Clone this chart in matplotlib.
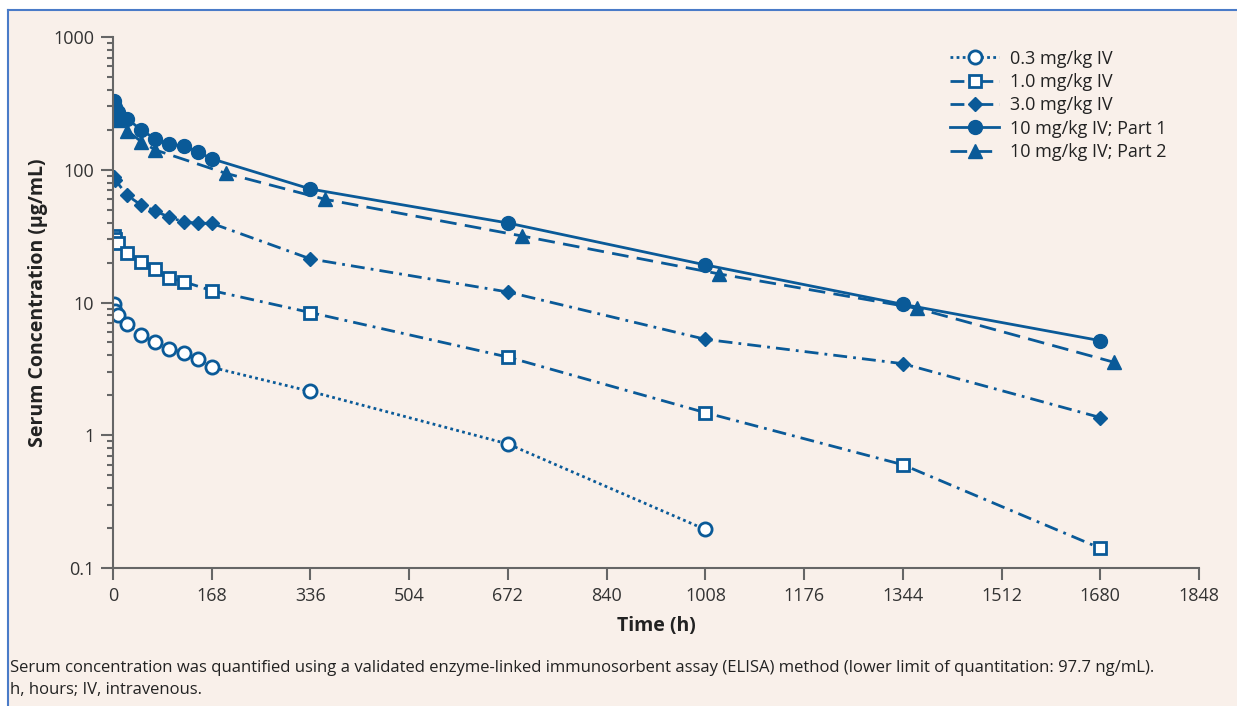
import matplotlib
matplotlib.use("Agg")
from matplotlib import pyplot as plt
from matplotlib.patches import Rectangle
from matplotlib.lines import Line2D
from matplotlib.ticker import FixedLocator, FixedFormatter, LogLocator, NullFormatter

plt.rcParams['font.family'] = ['Open Sans', 'DejaVu Sans']

# serum concentration (ug/mL) vs time (h)
t_03 = [1, 4, 8, 24, 48, 72, 96, 120, 144, 168, 336, 672, 1008]
c_03 = [9.7, 8.7, 8.1, 6.85, 5.7, 5.0, 4.5, 4.2, 3.77, 3.25, 2.14, 0.86, 0.195]

t_10 = [1, 4, 8, 24, 48, 72, 96, 120, 168, 336, 672, 1008, 1344, 1680]
c_10 = [31.7, 29.9, 27.9, 23.7, 20.3, 17.8, 15.4, 14.35, 12.3, 8.4, 3.88, 1.48, 0.6, 0.141]

t_30 = [1, 4, 24, 48, 72, 96, 120, 144, 168, 336, 672, 1008, 1344, 1680]
c_30 = [88.6, 83.7, 64.2, 54.2, 48.9, 43.8, 40.6, 39.5, 39.5, 21.3, 12.0, 5.28, 3.46, 1.36]

t_p1 = [1, 4, 8, 24, 48, 72, 96, 120, 144, 168, 336, 672, 1008, 1344, 1680]
c_p1 = [330, 296, 272, 243, 199, 171, 155, 152, 137, 121, 71.6, 39.7, 19.2, 9.69, 5.16]

t_p2 = [1, 4, 8, 24, 48, 72, 192, 360, 696, 1032, 1368, 1704]
c_p2 = [240, 252, 236, 197, 163, 141, 94, 60, 31.7, 16.4, 9.04, 3.54]

labels = ["0.3 mg/kg IV", "1.0 mg/kg IV", "3.0 mg/kg IV",
          "10 mg/kg IV; Part 1", "10 mg/kg IV; Part 2"]

blue = '#0a5a98'
bg = '#f9f0ea'

fig = plt.figure(figsize=(12.37, 7.06), dpi=100)
fig.patch.set_facecolor('white')
# panel background, blue frame only on left and top
x0, y0 = 8/1237, 1 - 10/706
fig.patches.append(Rectangle((x0, 0), 1 - x0, y0, transform=fig.transFigure,
                             facecolor=bg, edgecolor='none', zorder=-1))
fig.lines.append(Line2D([x0, x0], [0, y0], transform=fig.transFigure, color='#4a7bc8', lw=1.5))
fig.lines.append(Line2D([x0, 1], [y0, y0], transform=fig.transFigure, color='#4a7bc8', lw=1.5))

ax = fig.add_axes([113/1237, 1 - 568/706, 1086/1237, 531/706])
ax.patch.set_alpha(0)

lw = 2
dashdot = (0, (5, 2.2, 1, 2.2))
ax.plot(t_03, c_03, linestyle=(0, (1, 1.2)), color=blue, lw=lw, marker='o', markersize=9.5,
        markerfacecolor='white', markeredgecolor=blue, markeredgewidth=2, label=labels[0])
ax.plot(t_10, c_10, linestyle=dashdot, color=blue, lw=lw, marker='s', markersize=8.5,
        markerfacecolor='white', markeredgecolor=blue, markeredgewidth=2, label=labels[1])
ax.plot(t_30, c_30, linestyle=dashdot, color=blue, lw=lw, marker='D', markersize=7.5,
        label=labels[2])
ax.plot(t_p1, c_p1, linestyle='-', color=blue, lw=lw, marker='o', markersize=10, label=labels[3])
ax.plot(t_p2, c_p2, linestyle=(0, (6, 3)), color=blue, lw=lw, marker='^', markersize=10,
        label=labels[4])

ax.set_yscale('log')
ax.set_ylim(0.1, 1000)
ax.set_xlim(0, 1848)
ax.set_xticks(list(range(0, 1849, 168)))
ax.yaxis.set_major_locator(FixedLocator([0.1, 1, 10, 100, 1000]))
ax.yaxis.set_major_formatter(FixedFormatter(['0.1', '1', '10', '100', '1000']))
ax.yaxis.set_minor_locator(LogLocator(base=10, subs=range(2, 10)))
ax.yaxis.set_minor_formatter(NullFormatter())

for s in ['top', 'right']:
    ax.spines[s].set_visible(False)
for s in ['left', 'bottom']:
    ax.spines[s].set_color('#666666')
    ax.spines[s].set_linewidth(1.5)
ax.tick_params(axis='both', which='major', length=8.5, width=1.5, color='#666666',
               labelsize=13, labelcolor='#333333', pad=5)
ax.tick_params(axis='y', which='minor', length=4, width=1.5, color='#666666')

ax.set_xlabel("Time (h)", fontsize=14, fontweight='bold', color='#222222', labelpad=8)
ax.set_ylabel("Serum Concentration (µg/mL)", fontsize=14, fontweight='bold', color='#222222',
              labelpad=4)

ax.legend(loc='upper right', bbox_to_anchor=(0.985, 1.007), frameon=False, fontsize=13,
          handlelength=2.7, handletextpad=0.6, labelspacing=0.3, labelcolor='#222222')

fig.text(10/1237, 1 - 668/706, "Serum concentration was quantified using a validated enzyme-linked "
         "immunosorbent assay (ELISA) method (lower limit of quantitation: 97.7 ng/mL).",
         fontsize=12, color='#222222', va='center')
fig.text(10/1237, 1 - 690/706, "h, hours; IV, intravenous.", fontsize=12, color='#222222',
         va='center')

fig.savefig("out.png", dpi=100, facecolor=fig.get_facecolor())
